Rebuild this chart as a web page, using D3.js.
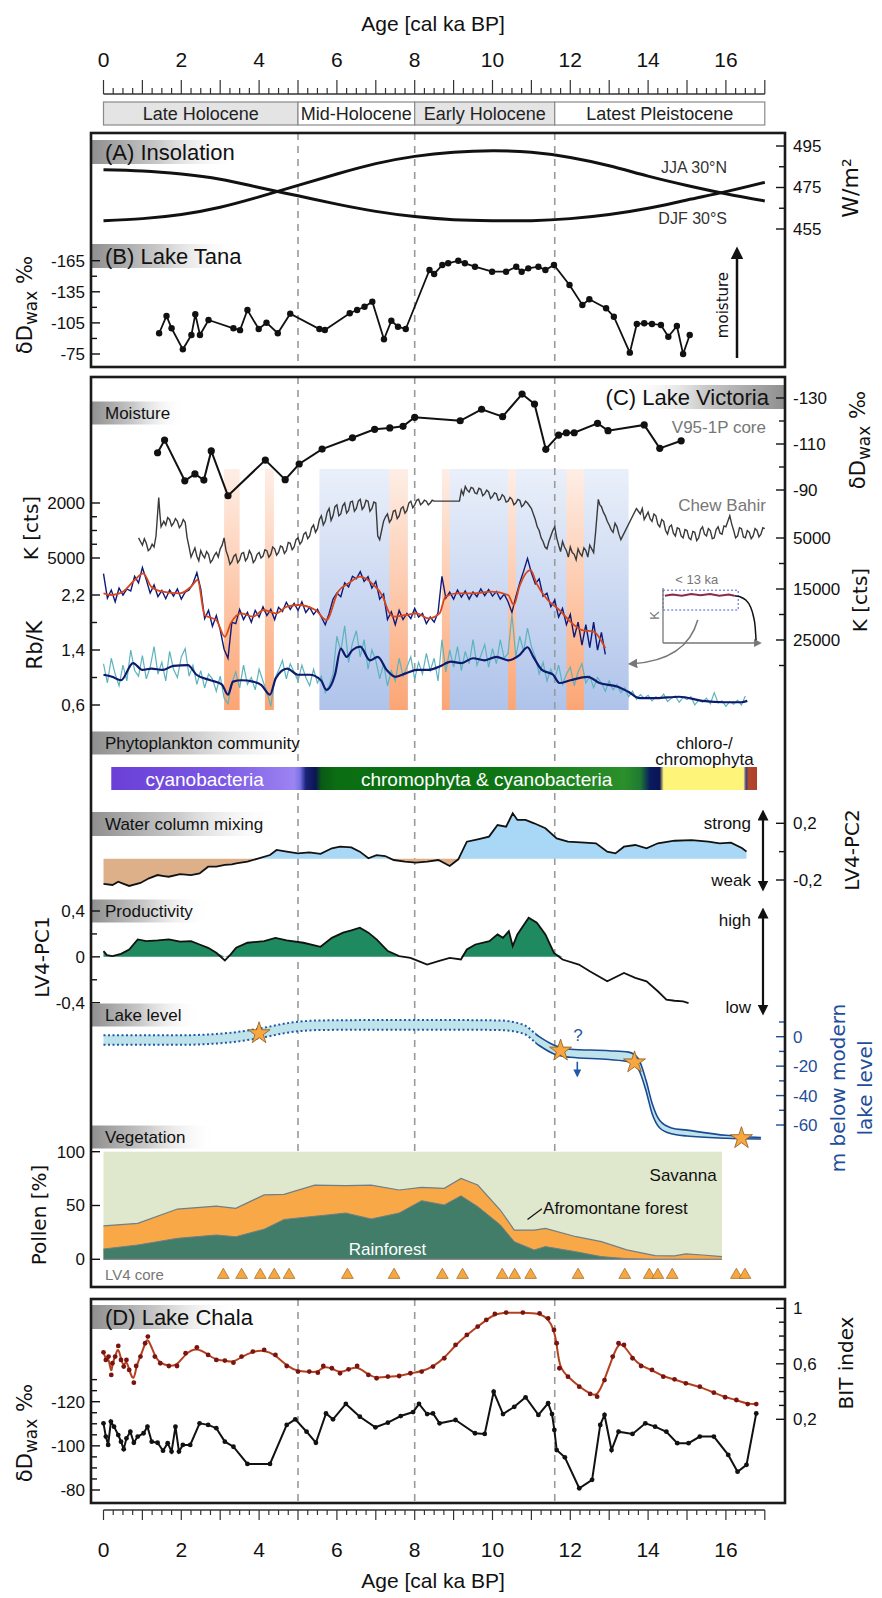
<!DOCTYPE html>
<html><head><meta charset="utf-8">
<script src="https://cdn.jsdelivr.net/npm/d3@7"></script>
<style>body{margin:0;background:#fff}svg{display:block}</style>
</head><body><svg id="c" width="882" height="1598"></svg>
<script>
// ---------------- DATA ----------------
const ageTicks = [0,2,4,6,8,10,12,14,16];
const periodNames = ["Late Holocene","Mid-Holocene","Early Holocene","Latest Pleistocene"];
const periodStart = [0,5,8,11.6];
const periodEnd = [5,8,11.6,17];
const periodShaded = [true,false,true,false];
const boundaries = [5,8,11.6];

const insolAge = [0,1,2,3,4,5,6,7,8,9,10,11,12,13,14,15,16,17];
const jja30N = [459,460,462,465.5,470.5,476,481.5,486.5,490,492,492.7,492,489.5,485.5,480.5,476,472,468.5];
const djf30S = [483.6,483,481.5,479,475,471,467,463.5,461,459.5,459,459,460,462,465,469,473,477.5];

const tana = [[1.43,-95],[1.62,-111.7],[1.75,-99.8],[2.04,-79.5],[2.26,-93.3],[2.36,-113.3],[2.48,-93.3],[2.7,-107.8],[3.34,-99.8],[3.51,-98],[3.7,-117.4],[3.99,-99.1],[4.19,-105.2],[4.48,-95],[4.8,-113.9],[5.55,-99.1],[5.69,-98.2],[6.33,-114.3],[6.52,-117.4],[6.71,-120.6],[6.91,-125.5],[7.21,-89.2],[7.4,-107.1],[7.57,-101.3],[7.77,-99.1],[8.38,-156],[8.5,-152.2],[8.71,-160.9],[8.86,-162.5],[9.12,-165],[9.29,-162.5],[9.55,-159.2],[9.99,-154.4],[10.35,-154.4],[10.61,-159.2],[10.75,-154.4],[10.92,-157.6],[11.18,-159.2],[11.36,-156],[11.58,-160.9],[11.98,-141.6],[12.31,-122.3],[12.49,-127.8],[12.92,-119.1],[13.12,-111],[13.53,-76.3],[13.71,-104],[13.9,-104.6],[14.1,-104],[14.33,-103],[14.52,-91.7],[14.74,-102],[14.9,-75],[15.07,-93.3]];

const v95 = [[1.39,-106.2],[1.57,-111.7],[2.09,-94],[2.35,-97],[2.58,-94.3],[2.77,-107],[3.2,-87.5],[4.16,-103],[4.67,-94.5],[5.03,-101.3],[5.62,-107.8],[6.4,-112.7],[6.97,-116.4],[7.36,-117],[7.7,-117.7],[8.0,-121.6],[9.17,-120.1],[9.72,-125.1],[10.26,-121.9],[10.76,-131.7],[11.08,-127.4],[11.37,-107.7],[11.7,-113.9],[11.9,-114.9],[12.1,-114.9],[12.7,-119],[12.97,-115.8],[13.9,-118.3],[14.3,-108.1],[14.85,-111.4]];

const chewBahirK = [[0.9,3900],[0.95,4100],[1.0,4300],[1.05,3950],[1.1,4200],[1.15,4600],[1.2,4500],[1.25,4250],[1.3,4400],[1.35,3800],[1.42,1700],[1.45,2600],[1.48,3300],[1.55,3000],[1.6,3200],[1.65,2800],[1.7,2900],[1.75,3250],[1.8,3100],[1.85,2850],[1.9,3000],[1.95,3350],[2.0,3200],[2.05,2900],[2.1,3050],[2.15,3900],[2.2,4400],[2.25,4950],[2.3,4700],[2.35,4450],[2.4,4900],[2.45,5150],[2.5,4600],[2.55,4850],[2.6,5000],[2.65,4650],[2.7,4800],[2.75,5250],[2.8,5100],[2.85,4850],[2.9,4700],[2.95,4950],[3.0,4500],[3.05,4300],[3.1,3900],[3.15,4600],[3.2,4900],[3.25,5350],[3.3,5200],[3.35,4900],[3.4,4800],[3.45,5250],[3.5,5100],[3.55,4750],[3.6,4700],[3.65,5150],[3.7,5000],[3.75,4600],[3.8,4800],[3.85,5250],[3.9,5100],[3.95,4800],[4.0,4700],[4.05,5000],[4.1,4900],[4.15,4550],[4.2,4600],[4.25,4950],[4.3,4800],[4.35,4400],[4.4,4500],[4.45,4850],[4.5,4700],[4.55,4350],[4.6,4400],[4.65,4750],[4.7,4600],[4.75,4150],[4.8,4200],[4.85,4550],[4.9,4400],[4.95,4000],[5.0,3900],[5.05,4250],[5.1,4100],[5.15,3700],[5.2,3600],[5.25,3950],[5.3,3800],[5.35,3350],[5.4,3200],[5.45,3600],[5.5,3400],[5.55,2900],[5.6,2700],[5.65,3200],[5.7,3000],[5.75,2500],[5.8,2300],[5.85,2950],[5.9,2700],[5.95,2200],[6.0,2100],[6.05,2700],[6.1,2600],[6.15,2150],[6.2,2000],[6.25,2550],[6.3,2400],[6.35,1950],[6.4,1900],[6.45,2450],[6.5,2300],[6.55,1900],[6.6,1800],[6.65,2350],[6.7,2200],[6.75,1850],[6.8,1900],[6.85,2450],[6.9,2300],[6.95,1950],[7.0,2000],[7.05,3800],[7.1,4000],[7.15,3500],[7.2,3000],[7.25,2750],[7.3,2600],[7.35,3050],[7.4,2900],[7.45,2450],[7.5,2400],[7.55,2850],[7.6,2700],[7.65,2300],[7.7,2200],[7.75,2550],[7.8,2400],[7.85,2000],[7.9,1900],[7.95,2250],[8.0,2100],[8.05,1850],[8.1,1800],[8.15,2100],[8.2,2000],[8.25,1850],[8.3,1900],[8.35,2100],[8.4,2000],[8.45,1850],[8.5,1900],[9.15,1900],[9.2,1300],[9.25,1550],[9.3,1100],[9.35,1300],[9.4,1400],[9.45,1150],[9.5,1200],[9.55,1450],[9.6,1500],[9.65,1200],[9.7,1250],[9.75,1600],[9.8,1500],[9.85,1300],[9.9,1400],[9.95,1750],[10.0,1650],[10.05,1450],[10.1,1500],[10.15,1850],[10.2,1800],[10.25,1550],[10.3,1650],[10.35,1950],[10.4,1900],[10.45,1700],[10.5,1800],[10.55,2100],[10.6,2000],[10.65,1800],[10.7,1850],[10.75,2200],[10.8,2100],[10.85,1900],[10.9,2000],[10.95,2150],[11.0,2300],[11.05,2600],[11.1,2900],[11.15,3300],[11.2,3500],[11.25,3900],[11.3,4100],[11.35,4400],[11.4,4500],[11.45,4100],[11.5,3800],[11.55,3500],[11.6,3300],[11.65,3900],[11.7,4300],[11.75,4650],[11.8,4100],[11.85,4400],[11.9,4600],[11.95,4950],[12.0,4400],[12.05,4700],[12.1,4800],[12.15,5100],[12.2,4500],[12.25,4750],[12.3,4900],[12.35,4450],[12.4,4600],[12.45,4950],[12.5,4300],[12.55,4500],[12.6,4700],[12.65,3600],[12.72,1800],[12.76,2100],[12.8,2200],[12.85,2500],[12.9,2700],[12.95,3000],[13.0,3200],[13.05,3450],[13.1,3600],[13.15,3100],[13.2,3300],[13.25,3700],[13.3,4000],[13.7,2300],[13.75,2450],[13.8,2600],[13.85,2300],[13.9,2900],[13.95,2700],[14.0,2500],[14.05,2850],[14.1,3000],[14.15,2600],[14.2,2700],[14.25,3150],[14.3,3300],[14.35,2900],[14.4,3000],[14.45,3500],[14.5,3700],[14.55,3300],[14.6,3200],[14.65,3650],[14.7,3800],[14.75,3350],[14.8,3400],[14.85,3800],[14.9,3900],[14.95,3450],[15.0,3500],[15.05,3900],[15.1,4000],[15.15,3550],[15.2,3600],[15.25,4050],[15.3,3900],[15.35,3450],[15.4,3300],[15.45,3700],[15.5,3800],[15.55,3400],[15.6,3500],[15.65,3950],[15.7,3900],[15.75,3450],[15.8,3300],[15.85,3650],[15.9,3700],[15.95,3250],[16.0,3300],[16.05,3000],[16.1,2700],[16.15,3150],[16.2,3500],[16.25,3900],[16.3,3800],[16.35,3350],[16.4,3400],[16.45,3850],[16.5,3900],[16.55,3500],[16.6,3600],[16.65,3950],[16.7,3800],[16.75,3400],[16.8,3500],[16.85,3850],[16.9,3700],[16.95,3350],[17.0,3400]];

// LV4 K counts (<13 ka), sampled every 0.1 ka from 0
const lv4K = [12000,16800,15200,17500,14800,16200,15000,15400,12500,13800,
  10800,13200,15800,14200,16500,15300,16900,15200,16400,15000,
  17000,15600,15200,13900,11800,15000,20800,19200,22300,20200,
  23000,26800,28600,21500,21800,19000,21000,19600,21500,19200,
  20500,18500,20200,19000,21000,18600,19400,17600,19000,17800,
  19200,17500,19600,18600,20000,19000,20500,22000,19800,17000,
  15800,16500,13800,14600,12500,13000,11600,13500,12600,14800,
  13500,17000,16000,21000,19500,22000,19200,21000,19800,20800,
  18800,20500,19800,21800,20500,21500,19600,12500,16800,15600,
  17000,15200,16600,15400,17000,15600,16500,15000,16300,15100,
  16400,15500,17000,16000,17500,19600,16500,13800,11500,9000,
  11800,14000,13000,16400,15800,18500,17200,20500,18800,22000,
  20000,24500,21500,26000,22000,26500,21500,27000,23500,27800];
const lv4KSmooth = [[0,15850],[0.22,16180],[0.5,15530],[0.8,13240],[1.02,11930],[1.23,14550],[1.52,15530],[1.96,15850],[2.25,14550],[2.42,13240],[2.6,20100],[2.9,21090],[3.12,24360],[3.27,21740],[3.55,19780],[3.84,20430],[4.12,19120],[4.43,19780],[4.71,18470],[5.0,18140],[5.45,19120],[5.73,21090],[6.03,15530],[6.3,13890],[6.6,12580],[6.9,13890],[7.18,16510],[7.33,19450],[7.47,20430],[7.77,20100],[8.06,19780],[8.35,20760],[8.64,19780],[8.79,16510],[9.07,15850],[9.5,15850],[9.96,15530],[10.4,16180],[10.55,18140],[10.69,14550],[10.98,11280],[11.13,13890],[11.42,17160],[11.72,19120],[12.0,21410],[12.3,23050],[12.6,23380],[12.9,26640]];

// Rb/K sampled every 0.1 ka from 0
const rbk = [1.20,0.92,1.28,1.05,0.88,1.18,0.95,1.40,1.10,1.02,
  1.32,0.98,1.15,1.45,1.05,1.22,0.95,1.38,1.12,1.00,
  1.30,1.42,1.02,1.18,0.90,1.10,0.85,1.05,0.98,0.80,
  1.02,0.70,0.62,0.92,1.08,0.85,1.18,0.90,1.00,0.82,
  1.12,0.95,0.78,0.58,0.98,1.10,1.25,0.98,1.20,1.08,
  0.95,1.18,1.00,0.88,1.12,0.92,1.02,0.78,0.88,1.05,
  1.60,1.38,1.75,1.22,1.50,1.68,1.30,1.55,1.12,1.40,
  1.25,0.98,1.20,0.88,1.10,0.95,1.28,1.02,1.15,1.30,
  0.98,1.22,1.05,1.35,1.10,1.28,0.95,1.55,1.08,1.40,
  1.15,1.45,1.10,1.38,1.20,1.55,1.18,1.32,1.48,1.15,
  1.42,1.20,1.55,1.28,1.35,1.92,1.30,1.60,1.38,1.72,
  1.45,1.30,1.05,1.22,0.95,1.12,0.98,1.18,0.90,1.05,
  1.15,0.88,1.08,1.20,0.92,1.02,0.85,1.00,0.92,0.80,
  0.95,0.82,0.90,0.78,0.85,0.72,0.80,0.68,0.75,0.70,
  0.74,0.66,0.72,0.69,0.76,0.65,0.70,0.73,0.64,0.71,
  0.68,0.72,0.60,0.67,0.64,0.70,0.62,0.78,0.63,0.66,
  0.58,0.65,0.61,0.67,0.60,0.73];
const rbkSmooth = [[0,1.04],[0.22,1.01],[0.45,0.96],[0.76,1.21],[1.0,1.11],[1.23,1.13],[1.52,1.11],[1.8,1.17],[2.17,1.18],[2.39,1.04],[2.75,0.96],[3.04,0.9],[3.2,0.75],[3.33,0.94],[3.55,0.96],[3.84,0.94],[4.06,0.89],[4.28,0.75],[4.43,0.99],[4.72,1.13],[5.0,1.04],[5.3,1.04],[5.59,0.96],[5.73,0.82],[5.95,1.04],[6.1,1.42],[6.25,1.30],[6.4,1.40],[6.6,1.45],[6.85,1.25],[7.05,1.30],[7.28,1.11],[7.5,1.01],[7.77,1.06],[8.06,1.11],[8.35,1.11],[8.64,1.16],[8.93,1.23],[9.2,1.21],[9.5,1.28],[9.8,1.25],[10.1,1.30],[10.4,1.25],[10.7,1.33],[10.9,1.44],[11.05,1.30],[11.27,1.11],[11.56,1.04],[11.72,0.92],[12.0,0.96],[12.45,1.01],[12.75,0.92],[13.2,0.87],[13.5,0.79],[13.78,0.70],[14.2,0.70],[14.8,0.72],[15.4,0.66],[15.95,0.64],[16.4,0.64],[16.55,0.66]];

// event bands (ka)
const wetBandStart = [5.55,8.7];
const wetBandEnd = [7.82,13.5];
const dryBandStart = [3.1,4.15,7.35,8.7,10.4,11.9];
const dryBandEnd = [3.5,4.38,7.82,8.9,10.6,12.35];

// inset (schematic full K record)
const insetRecent = [[0.02,0.86],[0.1,0.88],[0.2,0.86],[0.3,0.89],[0.4,0.87],[0.5,0.89],[0.6,0.86],[0.7,0.88],[0.76,0.86]];
const insetOld = [[0.76,0.86],[0.82,0.84],[0.88,0.78],[0.93,0.66],[0.96,0.5],[0.98,0.3],[0.99,0.05]];

// phytoplankton community colour bar
const phytoStops = [[0.2,"#6a3fd6"],[3.0,"#7b58e4"],[4.9,"#9c84f2"],[5.05,"#7a72e6"],[5.2,"#1a237a"],[5.45,"#0b1650"],[5.6,"#0a5a14"],[6.0,"#0b6e12"],[10,"#0d7414"],[13.4,"#2b8f2b"],[13.8,"#1f7a30"],[14.05,"#0b1a60"],[14.3,"#0b1456"],[14.4,"#fff47a"],[16.45,"#fff47a"],[16.52,"#3a3a8a"],[16.58,"#b0482a"],[16.8,"#b0402a"]];

const mixing = [[0,-0.228],[0.23,-0.235],[0.38,-0.212],[0.5,-0.225],[0.66,-0.242],[0.95,-0.221],[1.17,-0.188],[1.39,-0.165],[1.55,-0.172],[1.68,-0.177],[1.97,-0.158],[2.25,-0.165],[2.47,-0.153],[2.69,-0.106],[2.9,-0.106],[3.12,-0.094],[3.3,-0.09],[3.41,-0.082],[3.7,-0.071],[3.99,-0.047],[4.28,-0.024],[4.45,0.012],[4.71,0.0],[5.0,-0.012],[5.29,-0.005],[5.58,-0.016],[5.87,0.024],[6.08,0.035],[6.37,0.03],[6.59,0.0],[6.81,-0.047],[7.02,-0.024],[7.24,-0.031],[7.46,-0.059],[7.75,-0.071],[8.03,-0.077],[8.32,-0.071],[8.61,-0.059],[8.9,-0.101],[9.12,-0.054],[9.34,0.07],[9.62,0.087],[9.91,0.106],[10.13,0.188],[10.35,0.176],[10.52,0.271],[10.64,0.224],[10.85,0.224],[11.07,0.2],[11.36,0.165],[11.65,0.094],[11.94,0.07],[12.37,0.063],[12.66,0.059],[12.95,0.0],[13.16,-0.012],[13.38,0.035],[13.67,0.047],[13.96,0.024],[14.25,0.059],[14.68,0.077],[15.12,0.082],[15.55,0.07],[15.84,0.059],[16.13,0.063],[16.42,0.024],[16.53,0.0]];
const mixingBase = -0.05;

const productivity = [[0,0.05],[0.09,0.015],[0.23,0.006],[0.45,0.026],[0.66,0.064],[0.88,0.152],[1.1,0.137],[1.39,0.143],[1.68,0.152],[1.97,0.132],[2.25,0.137],[2.47,0.108],[2.69,0.079],[2.9,0.035],[3.12,-0.032],[3.27,0.021],[3.41,0.079],[3.7,0.123],[4.13,0.137],[4.42,0.166],[4.71,0.143],[5.14,0.123],[5.58,0.088],[5.87,0.166],[6.16,0.211],[6.37,0.231],[6.59,0.255],[6.81,0.211],[7.02,0.152],[7.31,0.05],[7.6,0.006],[7.89,-0.009],[8.1,-0.038],[8.32,-0.067],[8.61,-0.038],[8.9,-0.009],[9.19,-0.023],[9.34,0.064],[9.56,0.108],[9.92,0.137],[10.13,0.196],[10.27,0.166],[10.42,0.225],[10.52,0.094],[10.64,0.196],[10.93,0.342],[11.14,0.298],[11.36,0.196],[11.58,0.035],[11.8,-0.023],[12.22,-0.067],[12.5,-0.126],[12.95,-0.213],[13.38,-0.14],[13.67,-0.184],[13.96,-0.213],[14.25,-0.3],[14.47,-0.374],[14.68,-0.383],[14.9,-0.389],[15.04,-0.403]];

const lakeAge   = [0,2,3.2,4.0,4.8,5.5,7,9,10.2,10.8,11.2,11.6,12.0,13.0,13.5,13.75,13.95,14.1,14.3,14.6,15.0,16.0,16.9];
const lakeUpper = [1,1,2.5,5.5,9.5,11,11.3,11.3,11,8,0,-6,-8.5,-9.5,-10.5,-15,-30,-45,-57,-62,-63.5,-67,-68.5];
const lakeLower = [-5.5,-5.5,-4,-1,3,4.5,4.8,4.8,4.5,2,-6,-12,-14,-15.5,-17,-22,-37,-52,-62,-66,-67.5,-69,-69.5];
const lakeStarAge = [4.0,11.75,13.65,16.4];
const lakeStarLevel = [2.3,-9.5,-17.5,-69];
const lakeDottedUntil = 11.1;

const pollenAge = [0,0.88,1.9,2.9,3.4,4.13,4.64,5.43,6.23,6.88,7.6,8.18,8.76,9.19,9.62,10.2,10.56,11.07,11.36,12.15,12.8,13.45,14.18,14.68,14.97,15.4,15.9];
const pollenForestTotal = [31,33.4,46.7,49.5,47.4,59.8,60.4,69,68.4,69,64.4,66.9,66,75.2,69,45.8,27.2,27.2,28.8,21,16.4,8.7,3.4,3.1,5,4,2.5];
const pollenRainforest = [9.6,13.3,19.5,22.6,21,28,37,40,43,37.5,43,54.5,50.5,59,49,32,16.4,8.7,11.8,7,2.5,0.6,0,0,0,0,0];
const lv4Dates = [3.08,3.55,4.03,4.39,4.77,6.27,7.47,8.71,9.23,10.25,10.57,10.98,12.2,13.4,14.03,14.25,14.62,16.27,16.49];

const chalaBIT = [[0,0.683],[0.06,0.628],[0.13,0.652],[0.2,0.52],[0.23,0.604],[0.3,0.652],[0.38,0.729],[0.45,0.628],[0.52,0.58],[0.59,0.628],[0.66,0.556],[0.78,0.464],[0.84,0.584],[0.95,0.652],[1.07,0.748],[1.14,0.796],[1.32,0.652],[1.46,0.604],[1.68,0.584],[1.89,0.584],[2.11,0.676],[2.4,0.719],[2.69,0.664],[2.9,0.628],[3.12,0.623],[3.34,0.608],[3.55,0.652],[3.84,0.688],[4.13,0.7],[4.42,0.664],[4.71,0.584],[5.0,0.544],[5.29,0.544],[5.51,0.536],[5.65,0.584],[5.87,0.568],[6.08,0.532],[6.3,0.56],[6.52,0.584],[6.81,0.52],[7.02,0.496],[7.31,0.508],[7.6,0.512],[7.89,0.532],[8.18,0.544],[8.47,0.58],[8.76,0.64],[9.05,0.736],[9.34,0.808],[9.62,0.868],[9.84,0.916],[10.06,0.959],[10.35,0.969],[10.78,0.969],[11.21,0.964],[11.43,0.928],[11.58,0.844],[11.65,0.748],[11.72,0.568],[11.94,0.507],[12.23,0.435],[12.51,0.383],[12.69,0.363],[12.88,0.483],[13.09,0.652],[13.24,0.748],[13.38,0.736],[13.6,0.64],[13.82,0.584],[14.1,0.556],[14.39,0.507],[14.68,0.488],[14.97,0.459],[15.33,0.435],[15.69,0.392],[15.98,0.359],[16.27,0.339],[16.56,0.31],[16.78,0.31]];
const chalaD = [[0,-110.2],[0.06,-104.2],[0.12,-100.4],[0.19,-111],[0.27,-108.7],[0.38,-104.9],[0.45,-101.9],[0.52,-98.5],[0.59,-103.4],[0.69,-106.4],[0.78,-101.4],[0.88,-104.2],[1.03,-105.7],[1.13,-108.7],[1.24,-101.9],[1.39,-101.4],[1.53,-97.8],[1.65,-101.2],[1.75,-97.4],[1.85,-108.7],[1.94,-97.4],[2.04,-100.4],[2.23,-100.4],[2.47,-110.2],[2.69,-109.5],[2.9,-108],[3.12,-101.9],[3.34,-99.6],[3.7,-91.8],[4.28,-91.8],[4.71,-109.5],[4.93,-112],[5.22,-106.4],[5.46,-101.4],[5.72,-114.7],[5.9,-112],[6.23,-119],[6.59,-113.2],[6.99,-108.4],[7.31,-110.5],[7.64,-113.5],[7.96,-115.3],[8.11,-119],[8.32,-114.4],[8.47,-114.7],[8.64,-110.2],[9.05,-111.7],[9.55,-105.7],[9.8,-105.4],[10.03,-124.5],[10.27,-114.4],[10.56,-117.7],[10.85,-122],[11.18,-114],[11.43,-119.3],[11.53,-114.4],[11.59,-107.2],[11.65,-98.1],[11.86,-94.8],[12.23,-80.8],[12.56,-84.6],[12.77,-109.5],[12.88,-114],[13.06,-98.1],[13.24,-106.4],[13.6,-105.4],[13.93,-110.2],[14.18,-108.7],[14.47,-106.4],[14.75,-101.2],[15.04,-101.2],[15.33,-104.2],[15.69,-104.2],[16.06,-95.9],[16.3,-88.3],[16.53,-91.4],[16.78,-114.7]];

// ---------------- LAYOUT / SCALES ----------------
const FN = '"Liberation Sans Narrow","Arial Narrow","Liberation Sans",Arial,sans-serif';
const FW = '"DejaVu Sans",Verdana,sans-serif';
const FL = 91, FR = 785;
const x = d3.scaleLinear().domain([0,17]).range([103.5,764.8]);
const yIns = d3.scaleLinear().domain([455,495]).range([229,146]);
const yTana = d3.scaleLinear().domain([-165,-75]).range([260.7,354]);
const yV95 = d3.scaleLinear().domain([-130,-90]).range([398,490]);
const yChew = d3.scaleLinear().domain([2000,5000]).range([503,558]);
const yLvK = d3.scaleLinear().domain([5000,25000]).range([538,640]);
const yRb = d3.scaleLinear().domain([2.2,0.6]).range([595,705]);
const yPC2 = d3.scaleLinear().domain([0.2,-0.2]).range([823.3,880]);
const yPC1 = d3.scaleLinear().domain([0.4,-0.4]).range([911,1002.7]);
const yLake = d3.scaleLinear().domain([0,-60]).range([1036.7,1125]);
const yPol = d3.scaleLinear().domain([0,100]).range([1259.3,1151.7]);
const yBIT = d3.scaleLinear().domain([1,0.2]).range([1308.3,1419.3]);
const yChala = d3.scaleLinear().domain([-120,-80]).range([1401.7,1490]);
const insetX = d3.scaleLinear().domain([0,1]).range([663,757]);
const insetY = d3.scaleLinear().domain([0,1]).range([643,588]);

const svg = d3.select("#c");
svg.append("rect").attr("width",882).attr("height",1598).attr("fill","#fff");
const defs = svg.append("defs");
function grad(id, vertical, stops){
  const g = defs.append("linearGradient").attr("id",id)
    .attr("x1",0).attr("y1",0).attr("x2",vertical?0:1).attr("y2",vertical?1:0);
  stops.forEach(s=>g.append("stop").attr("offset",s[0]).attr("stop-color",s[1]).attr("stop-opacity",s[2]===undefined?1:s[2]));
}
grad("lblL",false,[[0,"#8f8f8f"],[0.45,"#c9c9c9"],[1,"#ffffff",0]]);
grad("lblR",false,[[0,"#ffffff",0],[0.5,"#c9c9c9"],[1,"#8f8f8f"]]);
grad("bandB",true,[[0,"#eaf0fa"],[1,"#afc3ea"]]);
grad("bandO",true,[[0,"#feeee6"],[1,"#fca574"]]);
const pg = defs.append("linearGradient").attr("id","phyto").attr("x1",0).attr("x2",1).attr("y1",0).attr("y2",0);
phytoStops.forEach(s=>pg.append("stop").attr("offset",(x(s[0])-x(0.2))/(x(16.8)-x(0.2))).attr("stop-color",s[1]));

function txt(px,py,s,o={}){
  const t = svg.append("text").attr("x",px).attr("y",py).attr("dy","0.35em")
    .style("font-family",o.fam||FN).style("font-size",(o.size||17)+"px")
    .attr("fill",o.fill||"#111").attr("text-anchor",o.anchor||"start");
  if(o.rot) t.attr("transform",`rotate(-90,${px},${py})`);
  if(s!==null) t.text(s);
  return t;
}
function dwaxLabel(px,py){
  const t = txt(px,py,null,{fam:FW,size:21,anchor:"middle",rot:true});
  t.append("tspan").text("δD");
  t.append("tspan").text("wax").attr("dy",5).style("font-size","17px");
  t.append("tspan").text(" ‰").attr("dy",-5);
}
const fmt = v => String(+v.toFixed(2)).replace(".",",");
function vTicks(scale, vals, labeled, side, col){
  col = col||"#111";
  vals.forEach(v=>{
    const yy = scale(v);
    const major = labeled.some(l=>Math.abs(l-v)<1e-9);
    const len = major?9:6;
    const x0 = side==="L"?FL:FR;
    svg.append("line").attr("x1",x0).attr("x2",side==="L"?x0+len:x0-len).attr("y1",yy).attr("y2",yy)
      .attr("stroke",col).attr("stroke-width",1.4);
    if(major) txt(side==="L"?x0-6:x0+8, yy, fmt(v), {anchor:side==="L"?"end":"start",fill:col,size:17});
  });
}
function tag(x0,w,yc,h,label,size,right){
  svg.append("rect").attr("x",x0).attr("y",yc-h/2).attr("width",w).attr("height",h)
    .attr("fill",right?"url(#lblR)":"url(#lblL)");
  txt(right?x0+w-16:x0+14, yc, label, {size:size,anchor:right?"end":"start"});
}
function dashes(y0,y1){
  boundaries.forEach(b=>svg.append("line").attr("x1",x(b)).attr("x2",x(b)).attr("y1",y0).attr("y2",y1)
    .attr("stroke","#9a9a9a").attr("stroke-width",1.6).attr("stroke-dasharray","7,6"));
}

// ---------------- TOP AXIS ----------------
txt(433,24,"Age [cal ka BP]",{size:21,anchor:"middle"});
ageTicks.forEach(t=>txt(x(t),60,String(t),{size:21,anchor:"middle"}));
svg.append("line").attr("x1",x(0)).attr("x2",x(17)).attr("y1",94).attr("y2",94).attr("stroke","#333").attr("stroke-width",1.3);
d3.range(0,17*4+1).forEach(i=>{const t=i/4, maj=(i%4===0);
  svg.append("line").attr("x1",x(t)).attr("x2",x(t)).attr("y1",maj?80:88).attr("y2",94).attr("stroke","#333").attr("stroke-width",1.2);});
periodNames.forEach((n,i)=>{
  svg.append("rect").attr("x",x(periodStart[i])).attr("y",102).attr("width",x(periodEnd[i])-x(periodStart[i])).attr("height",23)
    .attr("fill",periodShaded[i]?"#e4e4e4":"#fff").attr("stroke","#8a8a8a").attr("stroke-width",1.2);
  txt((x(periodStart[i])+x(periodEnd[i]))/2,114,n,{size:18,anchor:"middle",fill:"#222"});
});

// ---------------- PANEL A/B ----------------
const AB = [133,367];
dashes(AB[0],AB[1]);
tag(FL,150,152,24,"(A) Insolation",22,false);
tag(FL,150,256,24,"(B) Lake Tana",22,false);
const lineIns = d3.line().x((d,i)=>x(insolAge[i])).y(d=>yIns(d)).curve(d3.curveNatural);
[jja30N,djf30S].forEach(s=>svg.append("path").attr("d",lineIns(s)).attr("fill","none").attr("stroke","#111").attr("stroke-width",3));
txt(727,167,"JJA 30°N",{size:16,anchor:"end",fill:"#333"});
txt(727,218,"DJF 30°S",{size:16,anchor:"end",fill:"#333"});
vTicks(yIns,[455,465,475,485,495],[455,475,495],"R");
txt(850,188,"W/m²",{fam:FW,size:22,anchor:"middle",rot:true});

svg.append("path").attr("d",d3.line().x(d=>x(d[0])).y(d=>yTana(d[1]))(tana)).attr("fill","none").attr("stroke","#111").attr("stroke-width",1.8);
svg.selectAll(null).data(tana).enter().append("circle").attr("cx",d=>x(d[0])).attr("cy",d=>yTana(d[1])).attr("r",3.2).attr("fill","#111");
vTicks(yTana,[-165,-150,-135,-120,-105,-90,-75],[-165,-135,-105,-75],"L");
dwaxLabel(25,305);
defs.append("marker").attr("id","ah").attr("viewBox","0 0 10 10").attr("refX",5).attr("refY",5).attr("markerWidth",5).attr("markerHeight",5).attr("orient","auto-start-reverse")
  .append("path").attr("d","M0,0 L10,5 L0,10 z").attr("fill","#111");
svg.append("line").attr("x1",737).attr("x2",737).attr("y1",yTana(-75)+4).attr("y2",yTana(-165)-8).attr("stroke","#111").attr("stroke-width",2.5).attr("marker-end","url(#ah)");
txt(723,305,"moisture",{size:15,anchor:"middle",rot:true,fam:FW});

// ---------------- PANEL C ----------------
const C = [377,1287];
wetBandStart.forEach((s,i)=>svg.append("rect").attr("x",x(s)).attr("y",469).attr("width",x(wetBandEnd[i])-x(s)).attr("height",241).attr("fill","url(#bandB)"));
dryBandStart.forEach((s,i)=>svg.append("rect").attr("x",x(s)).attr("y",469).attr("width",x(dryBandEnd[i])-x(s)).attr("height",241).attr("fill","url(#bandO)"));
dashes(C[0],1259);
tag(625,160,397,24,"(C) Lake Victoria",22,true);
tag(FL,95,413,23,"Moisture",17,false);
svg.append("path").attr("d",d3.line().x(d=>x(d[0])).y(d=>yV95(d[1]))(v95)).attr("fill","none").attr("stroke","#111").attr("stroke-width",2);
svg.selectAll(null).data(v95).enter().append("circle").attr("cx",d=>x(d[0])).attr("cy",d=>yV95(d[1])).attr("r",3.6).attr("fill","#111");
txt(766,427,"V95-1P core",{size:17,anchor:"end",fill:"#777"});
vTicks(yV95,[-130,-120,-110,-100,-90],[-130,-110,-90],"R");
dwaxLabel(858,440);
svg.append("path").attr("d",d3.line().x(d=>x(d[0])).y(d=>yChew(d[1]))(chewBahirK)).attr("fill","none").attr("stroke","#3a3a3a").attr("stroke-width",1.4);
txt(766,505,"Chew Bahir",{size:17,anchor:"end",fill:"#777"});
vTicks(yChew,[2000,2750,3500,4250,5000],[2000,5000],"L");
txt(31,528,"K  [cts]",{fam:FW,size:20,anchor:"middle",rot:true});
const lvAge = d3.range(lv4K.length).map(i=>i/10);
svg.append("path").attr("d",d3.line().x((d,i)=>x(lvAge[i])).y(d=>yLvK(d))(lv4K)).attr("fill","none").attr("stroke","#0e1a78").attr("stroke-width",1.4);
svg.append("path").attr("d",d3.line().x(d=>x(d[0])).y(d=>yLvK(d[1])).curve(d3.curveMonotoneX)(lv4KSmooth)).attr("fill","none").attr("stroke","#d9461a").attr("stroke-width",1.8);
vTicks(yLvK,[5000,10000,15000,20000,25000,30000],[5000,15000,25000],"R");
txt(860,600,"K [cts]",{fam:FW,size:20,anchor:"middle",rot:true});
const rbAge = d3.range(rbk.length).map(i=>i/10);
svg.append("path").attr("d",d3.line().x((d,i)=>x(rbAge[i])).y(d=>yRb(d))(rbk)).attr("fill","none").attr("stroke","#5db3bd").attr("stroke-width",1.2);
svg.append("path").attr("d",d3.line().x(d=>x(d[0])).y(d=>yRb(d[1])).curve(d3.curveMonotoneX)(rbkSmooth)).attr("fill","none").attr("stroke","#0e1a6e").attr("stroke-width",2.2);
vTicks(yRb,[2.2,1.8,1.4,1.0,0.6],[2.2,1.4,0.6],"L");
txt(35,645,"Rb/K",{fam:FW,size:21,anchor:"middle",rot:true});
// inset
svg.append("rect").attr("x",insetX(0)).attr("y",insetY(0.96)).attr("width",insetX(0.8)-insetX(0)).attr("height",insetY(0.6)-insetY(0.96))
  .attr("fill","none").attr("stroke","#4a5ad0").attr("stroke-width",1).attr("stroke-dasharray","2,2");
defs.append("marker").attr("id","ahg").attr("viewBox","0 0 10 10").attr("refX",5).attr("refY",5).attr("markerWidth",6).attr("markerHeight",6).attr("orient","auto-start-reverse")
  .append("path").attr("d","M0,0 L10,5 L0,10 z").attr("fill","#777");
svg.append("line").attr("x1",insetX(0)).attr("x2",insetX(0)).attr("y1",insetY(0)).attr("y2",insetY(1)).attr("stroke","#777").attr("stroke-width",1.3);
svg.append("line").attr("x1",insetX(0)).attr("x2",insetX(1.01)).attr("y1",insetY(0)).attr("y2",insetY(0)).attr("stroke","#777").attr("stroke-width",1.3).attr("marker-end","url(#ahg)");
svg.append("path").attr("d",d3.line().x(d=>insetX(d[0])).y(d=>insetY(d[1]))(insetRecent)).attr("fill","none").attr("stroke","#8a2a4a").attr("stroke-width",2);
svg.append("path").attr("d",d3.line().x(d=>insetX(d[0])).y(d=>insetY(d[1])).curve(d3.curveMonotoneX)(insetOld)).attr("fill","none").attr("stroke","#111").attr("stroke-width",1.5);
txt(insetX(0.36),579,"< 13 ka",{size:13,anchor:"middle",fill:"#777"});
txt(insetX(0)-9,insetY(0.5),"K",{size:13,anchor:"middle",fill:"#777",rot:true});
svg.append("path").attr("d",`M${insetX(0.37)},${insetY(0.42)} Q${insetX(0.25)},${yRb(1.25)} ${x(13.6)},${yRb(1.2)}`)
  .attr("fill","none").attr("stroke","#777").attr("stroke-width",1.6).attr("marker-end","url(#ahg)");

// phytoplankton
tag(FL,222,743,23,"Phytoplankton community",17,false);
svg.append("rect").attr("x",x(0.2)).attr("y",767).attr("width",x(16.8)-x(0.2)).attr("height",23).attr("fill","url(#phyto)");
txt(x(2.6),779,"cyanobacteria",{size:19,anchor:"middle",fill:"#fff"});
txt(x(9.85),779,"chromophyta & cyanobacteria",{size:19,anchor:"middle",fill:"#fff"});
txt(x(15.45),743,"chloro-/",{size:17,anchor:"middle"});
txt(x(15.45),759,"chromophyta",{size:17,anchor:"middle"});

// mixing
tag(FL,190,824,24,"Water column mixing",17,false);
svg.append("path").attr("d",d3.area().x(d=>x(d[0])).y0(yPC2(mixingBase)).y1(d=>yPC2(Math.max(d[1],mixingBase)))(mixing)).attr("fill","#a9d8f6");
svg.append("path").attr("d",d3.area().x(d=>x(d[0])).y0(yPC2(mixingBase)).y1(d=>yPC2(Math.min(d[1],mixingBase)))(mixing)).attr("fill","#ddb08a");
svg.append("path").attr("d",d3.line().x(d=>x(d[0])).y(d=>yPC2(d[1]))(mixing)).attr("fill","none").attr("stroke","#111").attr("stroke-width",1.8);
vTicks(yPC2,[0.2,0,-0.2],[0.2,-0.2],"R");
txt(852,850,"LV4-PC2",{fam:FW,size:20,anchor:"middle",rot:true});
txt(751,823,"strong",{size:17,anchor:"end"});
txt(751,880,"weak",{size:17,anchor:"end"});
svg.append("line").attr("x1",763).attr("x2",763).attr("y1",886).attr("y2",815).attr("stroke","#111").attr("stroke-width",2.2).attr("marker-end","url(#ah)").attr("marker-start","url(#ah)");

// productivity
tag(FL,120,911,23,"Productivity",17,false);
svg.append("path").attr("d",d3.area().x(d=>x(d[0])).y0(yPC1(0)).y1(d=>yPC1(Math.max(d[1],0)))(productivity)).attr("fill","#1f8a60");
svg.append("path").attr("d",d3.line().x(d=>x(d[0])).y(d=>yPC1(d[1]))(productivity)).attr("fill","none").attr("stroke","#111").attr("stroke-width",1.8);
vTicks(yPC1,[0.4,0.2,0,-0.2,-0.4],[0.4,0,-0.4],"L");
txt(42,957,"LV4-PC1",{fam:FW,size:20,anchor:"middle",rot:true});
txt(751,920,"high",{size:17,anchor:"end"});
txt(751,1007,"low",{size:17,anchor:"end"});
svg.append("line").attr("x1",763).attr("x2",763).attr("y1",1010).attr("y2",913).attr("stroke","#111").attr("stroke-width",2.2).attr("marker-end","url(#ah)").attr("marker-start","url(#ah)");

// lake level
tag(FL,110,1015,23,"Lake level",17,false);
const lakePts = lakeAge.map((t,i)=>({t,u:lakeUpper[i],l:lakeLower[i]}));
svg.append("path").attr("d",d3.area().x(d=>x(d.t)).y0(d=>yLake(d.l)).y1(d=>yLake(d.u)).curve(d3.curveMonotoneX)(lakePts)).attr("fill","#bfe3eb");
const cl1 = defs.append("clipPath").attr("id","lakeDot"); cl1.append("rect").attr("x",0).attr("y",0).attr("width",x(lakeDottedUntil)).attr("height",1598);
const cl2 = defs.append("clipPath").attr("id","lakeSol"); cl2.append("rect").attr("x",x(lakeDottedUntil)).attr("y",0).attr("width",882).attr("height",1598);
["u","l"].forEach(k=>{
  const ln = d3.line().x(d=>x(d.t)).y(d=>yLake(d[k])).curve(d3.curveMonotoneX)(lakePts);
  svg.append("path").attr("d",ln).attr("fill","none").attr("stroke","#1f5aa8").attr("stroke-width",2).attr("stroke-dasharray","2,2.5").attr("clip-path","url(#lakeDot)");
  svg.append("path").attr("d",ln).attr("fill","none").attr("stroke","#1a4a94").attr("stroke-width",1.6).attr("clip-path","url(#lakeSol)");
});
const starSym = d3.symbol().type(d3.symbolStar).size(150);
lakeStarAge.forEach((t,i)=>svg.append("path").attr("d",starSym()).attr("transform",`translate(${x(t)},${yLake(lakeStarLevel[i])})`)
  .attr("fill","#f7a640").attr("stroke","#8a5a20").attr("stroke-width",0.8));
txt(x(12.2),1035,"?",{size:17,anchor:"middle",fill:"#1f5aa8"});
defs.append("marker").attr("id","ahb").attr("viewBox","0 0 10 10").attr("refX",5).attr("refY",5).attr("markerWidth",5).attr("markerHeight",5).attr("orient","auto")
  .append("path").attr("d","M0,0 L10,5 L0,10 z").attr("fill","#1f5aa8");
svg.append("line").attr("x1",x(12.18)).attr("x2",x(12.18)).attr("y1",yLake(-17)).attr("y2",yLake(-25)).attr("stroke","#1f5aa8").attr("stroke-width",1.6).attr("marker-end","url(#ahb)");
vTicks(yLake,[10,0,-10,-20,-30,-40,-50,-60],[0,-20,-40,-60],"R","#1f4e9a");
txt(838,1088,"m below modern",{fam:FW,size:20,anchor:"middle",rot:true,fill:"#1f4e9a"});
txt(865,1088,"lake level",{fam:FW,size:20,anchor:"middle",rot:true,fill:"#1f4e9a"});

// vegetation
tag(FL,125,1137,23,"Vegetation",17,false);
svg.append("rect").attr("x",x(0)).attr("y",yPol(100)).attr("width",x(15.9)-x(0)).attr("height",yPol(0)-yPol(100)).attr("fill","#dfe8cd");
const polPts = pollenAge.map((t,i)=>({t,tot:pollenForestTotal[i],rf:pollenRainforest[i]}));
svg.append("path").attr("d",d3.area().x(d=>x(d.t)).y0(yPol(0)).y1(d=>yPol(d.tot))(polPts)).attr("fill","#f8a846");
svg.append("path").attr("d",d3.line().x(d=>x(d.t)).y(d=>yPol(d.tot))(polPts)).attr("fill","none").attr("stroke","#6f7f88").attr("stroke-width",1.2);
svg.append("path").attr("d",d3.area().x(d=>x(d.t)).y0(yPol(0)).y1(d=>yPol(d.rf))(polPts)).attr("fill","#417d68");
svg.append("path").attr("d",d3.line().x(d=>x(d.t)).y(d=>yPol(d.rf))(polPts)).attr("fill","none").attr("stroke","#6f7f88").attr("stroke-width",1);
svg.append("line").attr("x1",x(0)).attr("x2",x(15.9)).attr("y1",yPol(0)).attr("y2",yPol(0)).attr("stroke","#8a8a8a").attr("stroke-width",1.2);
txt(x(14.9),yPol(78),"Savanna",{size:17,anchor:"middle"});
txt(x(11.3),yPol(48),"Afromontane forest",{size:17});
svg.append("line").attr("x1",x(10.9)).attr("y1",yPol(37)).attr("x2",x(11.27)).attr("y2",yPol(47)).attr("stroke","#111").attr("stroke-width",1.2);
txt(x(7.3),yPol(9.5),"Rainforest",{size:17,anchor:"middle",fill:"#fff"});
vTicks(yPol,[100,50,0],[100,50,0],"L");
txt(39,1215,"Pollen [%]",{fam:FW,size:20,anchor:"middle",rot:true});
txt(105,1275,"LV4 core",{size:15,fill:"#777"});
const triSym = d3.symbol().type(d3.symbolTriangle).size(60);
lv4Dates.forEach(t=>svg.append("path").attr("d",triSym()).attr("transform",`translate(${x(t)},1275)`).attr("fill","#f7a640").attr("stroke","#9a6a2a").attr("stroke-width",0.7));

// ---------------- PANEL D ----------------
const D = [1299,1503];
dashes(D[0],D[1]);
tag(FL,150,1317,24,"(D) Lake Chala",22,false);
svg.append("path").attr("d",d3.line().x(d=>x(d[0])).y(d=>yBIT(d[1])).curve(d3.curveBasis)(chalaBIT)).attr("fill","none").attr("stroke","#b4401e").attr("stroke-width",2);
svg.selectAll(null).data(chalaBIT).enter().append("circle").attr("cx",d=>x(d[0])).attr("cy",d=>yBIT(d[1])).attr("r",2.4).attr("fill","#7a1410");
svg.append("path").attr("d",d3.line().x(d=>x(d[0])).y(d=>yChala(d[1]))(chalaD)).attr("fill","none").attr("stroke","#111").attr("stroke-width",2);
svg.selectAll(null).data(chalaD).enter().append("circle").attr("cx",d=>x(d[0])).attr("cy",d=>yChala(d[1])).attr("r",2.4).attr("fill","#111");
vTicks(yBIT,[1,0.9,0.8,0.7,0.6,0.5,0.4,0.3,0.2],[1,0.6,0.2],"R");
txt(846,1363,"BIT index",{fam:FW,size:20,anchor:"middle",rot:true});
vTicks(yChala,[-130,-125,-120,-115,-110,-105,-100,-95,-90,-85,-80],[-120,-100,-80],"L");
dwaxLabel(25,1433);

[[AB[0],AB[1]],[C[0],C[1]],[D[0],D[1]]].forEach(p=>svg.append("rect").attr("x",FL).attr("y",p[0]).attr("width",FR-FL).attr("height",p[1]-p[0])
  .attr("fill","none").attr("stroke","#1a1a1a").attr("stroke-width",2.6));

// ---------------- BOTTOM AXIS ----------------
svg.append("line").attr("x1",x(0)).attr("x2",x(17)).attr("y1",1510).attr("y2",1510).attr("stroke","#333").attr("stroke-width",1.3);
d3.range(0,17*4+1).forEach(i=>{const t=i/4, maj=(i%4===0);
  svg.append("line").attr("x1",x(t)).attr("x2",x(t)).attr("y1",1510).attr("y2",maj?1520:1515).attr("stroke","#333").attr("stroke-width",1.2);});
ageTicks.forEach(t=>txt(x(t),1550,String(t),{size:21,anchor:"middle"}));
txt(433,1581,"Age [cal ka BP]",{size:21,anchor:"middle"});
</script></body></html>
